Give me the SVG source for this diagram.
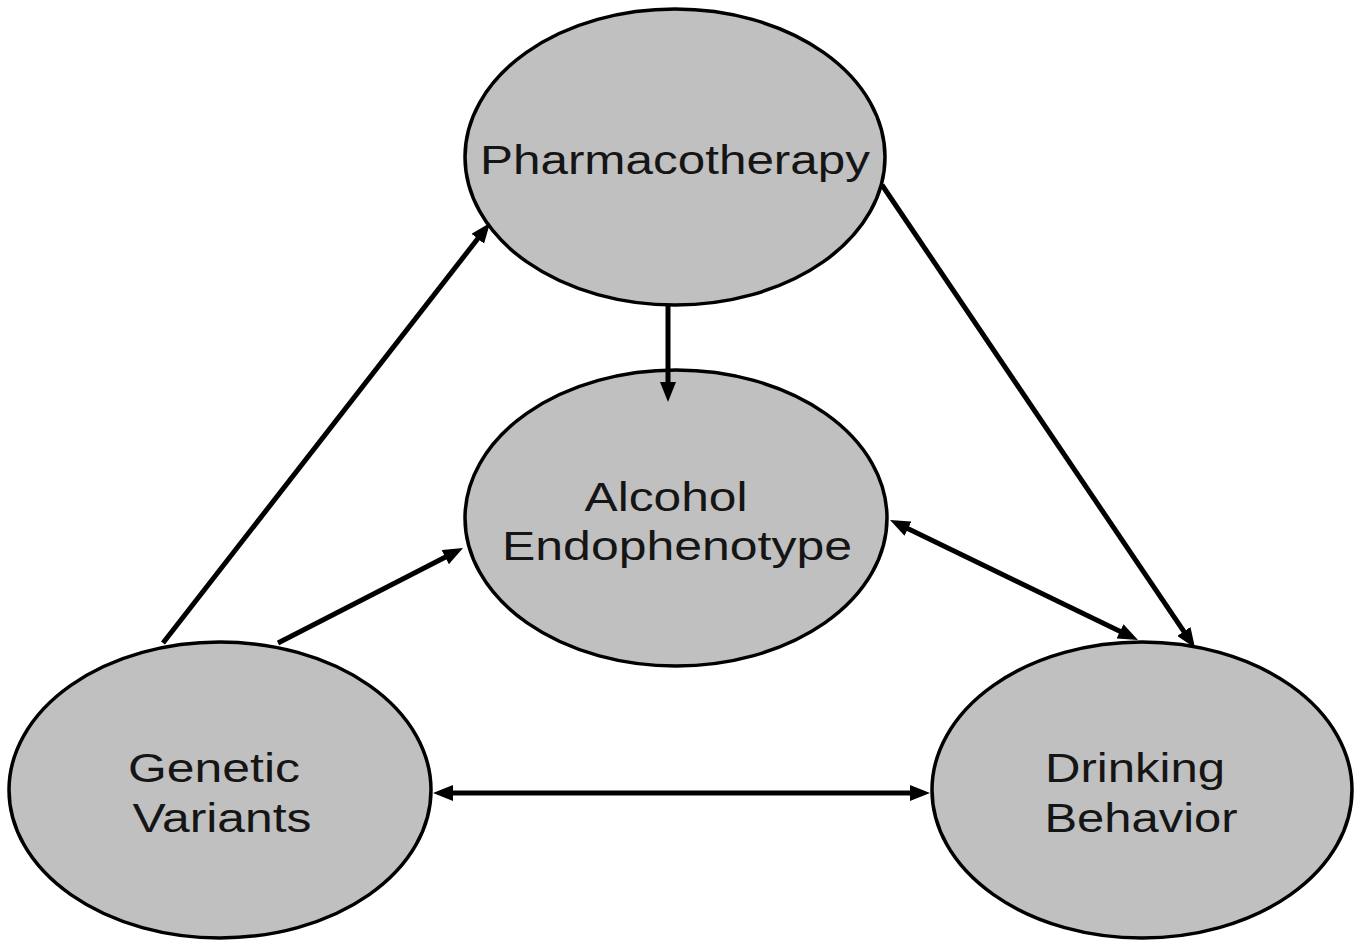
<svg xmlns="http://www.w3.org/2000/svg" width="1360" height="944" viewBox="0 0 1360 944">
<style>
.node ellipse{fill:#c0c0c0;stroke:#000;stroke-width:3.5}
.node text{font-family:"Liberation Sans",Arial,sans-serif;font-size:41px;fill:#151515;text-anchor:middle}
.edges line{stroke:#000;stroke-width:5}
</style>
<defs>
<marker id="ah" viewBox="0 0 20 16" refX="13" refY="8" markerWidth="20" markerHeight="16" markerUnits="userSpaceOnUse" orient="auto-start-reverse">
<path d="M0,0 L20,8 L0,16 z" fill="#000"/>
</marker>
</defs>
<rect width="1360" height="944" fill="#fff"/>
<g id="n-pharma" class="node">
<ellipse cx="675" cy="157" rx="210" ry="148"/>
<text x="675" y="174" textLength="390" lengthAdjust="spacingAndGlyphs">Pharmacotherapy</text>
</g>
<g id="n-alcohol" class="node">
<ellipse cx="676" cy="518" rx="211" ry="148"/>
<text x="666" y="511" textLength="163" lengthAdjust="spacingAndGlyphs">Alcohol</text>
<text x="677" y="560" textLength="350" lengthAdjust="spacingAndGlyphs">Endophenotype</text>
</g>
<g id="n-genetic" class="node">
<ellipse cx="220" cy="790" rx="211" ry="148"/>
<text x="214" y="782" textLength="172" lengthAdjust="spacingAndGlyphs">Genetic</text>
<text x="222" y="832" textLength="179" lengthAdjust="spacingAndGlyphs">Variants</text>
</g>
<g id="n-drinking" class="node">
<ellipse cx="1142" cy="790" rx="210" ry="148"/>
<text x="1135" y="782" textLength="180" lengthAdjust="spacingAndGlyphs">Drinking</text>
<text x="1141" y="832" textLength="193" lengthAdjust="spacingAndGlyphs">Behavior</text>
</g>
<g id="edges" class="edges">
<line x1="163" y1="643" x2="485.7" y2="228.5" marker-end="url(#ah)"/>
<line x1="278" y1="643" x2="456.8" y2="551.2" marker-end="url(#ah)"/>
<line x1="668" y1="306" x2="668" y2="395" marker-end="url(#ah)"/>
<line x1="882" y1="185" x2="1191.1" y2="642.2" marker-end="url(#ah)"/>
<line x1="896.3" y1="523" x2="1131.7" y2="637" marker-start="url(#ah)" marker-end="url(#ah)"/>
<line x1="440" y1="793" x2="923" y2="793" marker-start="url(#ah)" marker-end="url(#ah)"/>
</g>
</svg>
